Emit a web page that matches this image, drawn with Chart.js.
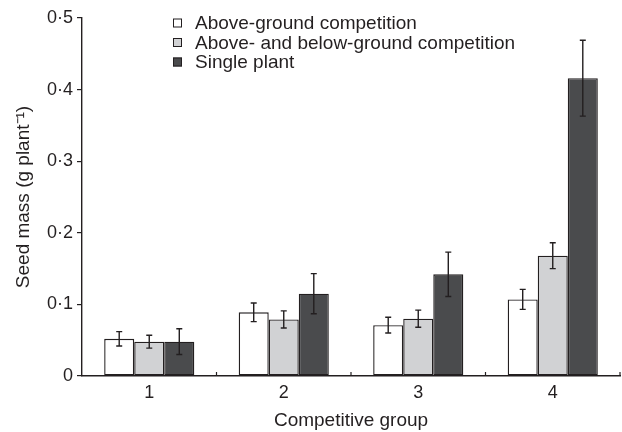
<!DOCTYPE html>
<html>
<head>
<meta charset="utf-8">
<script src="https://cdn.jsdelivr.net/npm/chart.js@4/dist/chart.umd.min.js"></script>
<style>
  html, body { margin: 0; padding: 0; background: #fff; }
  #wrap { width: 622px; height: 432px; }
</style>
</head>
<body>
<div id="wrap"><canvas id="grafico"></canvas></div>
<script>
// data
const groups = ['1', '2', '3', '4'];
const seriesNames = ['Above-ground competition', 'Above- and below-ground competition', 'Single plant'];
const aboveGround = [0.052, 0.089, 0.071, 0.107];
const aboveBelow = [0.048, 0.079, 0.080, 0.168];
const singlePlant = [0.048, 0.115, 0.142, 0.416];
const errAbove = [0.010, 0.013, 0.011, 0.014];
const errAboveBelow = [0.009, 0.012, 0.012, 0.018];
const errSingle = [0.018, 0.028, 0.031, 0.053];
const yTickLabels = ['0', '0·1', '0·2', '0·3', '0·4', '0·5'];

const fillColors = ['#ffffff', '#d1d2d4', '#4a4b4d'];
const ink = '#231f20';
const fontFam = '"Liberation Sans", Arial, Helvetica, sans-serif';

// error bars, drawn from the scales
const errorBars = {
    id: 'errorBars',
    afterDatasetsDraw(chart) {
        const c = chart.ctx;
        const y = chart.scales.y;
        const errs = [errAbove, errAboveBelow, errSingle];
        c.save();
        c.strokeStyle = ink;
        c.lineWidth = 1.4;
        chart.data.datasets.forEach((ds, i) => {
            chart.getDatasetMeta(i).data.forEach((bar, j) => {
                const v = ds.data[j], e = errs[i][j];
                const yt = y.getPixelForValue(v + e), yb = y.getPixelForValue(v - e);
                c.beginPath();
                c.moveTo(bar.x, yt); c.lineTo(bar.x, yb);
                c.moveTo(bar.x - 3, yt); c.lineTo(bar.x + 3, yt);
                c.moveTo(bar.x - 3, yb); c.lineTo(bar.x + 3, yb);
                c.stroke();
            });
        });
        c.restore();
    }
};

// small upward ticks between groups on the x axis + legend in the plot
const extras = {
    id: 'extras',
    afterDraw(chart) {
        const c = chart.ctx;
        const x = chart.scales.x;
        const a = chart.chartArea;
        const step = x.getPixelForValue(1) - x.getPixelForValue(0);
        c.save();
        c.strokeStyle = ink;
        c.lineWidth = 1.2;
        for (let i = 0; i < groups.length; i++) {
            const px = x.getPixelForValue(i) + step / 2;
            c.beginPath();
            c.moveTo(px, a.bottom); c.lineTo(px, a.bottom - 4);
            c.stroke();
        }
        // legend
        c.font = '19px ' + fontFam;
        c.textBaseline = 'middle';
        const lx = a.left + 91, ly = a.top + 5;
        seriesNames.forEach((name, i) => {
            const yy = ly + i * 19.5;
            c.fillStyle = fillColors[i];
            c.fillRect(lx, yy - 4.5, 9, 9);
            c.strokeStyle = ink;
            c.lineWidth = 1;
            c.strokeRect(lx + 0.5, yy - 4, 8, 8);
            c.fillStyle = ink;
            c.fillText(name, lx + 22, yy + 1);
        });
        c.restore();
    }
};

const ctx = document.getElementById('grafico').getContext('2d');
new Chart(ctx, {
    type: 'bar',
    data: {
        labels: groups,
        datasets: [aboveGround, aboveBelow, singlePlant].map((d, i) => ({
            label: seriesNames[i],
            data: d,
            backgroundColor: fillColors[i],
            borderColor: ink,
            borderWidth: 1.4,
            borderSkipped: false,
            categoryPercentage: 0.67,
            barPercentage: 1.0
        }))
    },
    options: {
        responsive: true,
        maintainAspectRatio: false,
        animation: false,
        layout: { padding: { top: 18, right: 2, left: 0, bottom: 0 } },
        plugins: {
            legend: { display: false },
            tooltip: { enabled: false }
        },
        scales: {
            x: {
                grid: { display: false, tickLength: 0 },
                border: { display: true, color: ink, width: 1.4 },
                ticks: { color: ink, font: { family: fontFam, size: 18 }, padding: 6 },
                title: {
                    display: true, text: 'Competitive group', color: ink,
                    font: { family: fontFam, size: 19 }, padding: { top: 0, bottom: 0 }
                },
                afterFit(s) { s.height = 56; }
            },
            y: {
                min: 0, max: 0.5,
                grid: { drawOnChartArea: false, tickLength: 5, color: ink, lineWidth: 1.2 },
                border: { display: true, color: ink, width: 1.4 },
                ticks: {
                    stepSize: 0.1, color: ink, padding: 4,
                    font: { family: fontFam, size: 18 },
                    callback: (v, i) => yTickLabels[i]
                },
                title: {
                    display: true, text: 'Seed mass (g plant⁻¹)', color: ink,
                    font: { family: fontFam, size: 19 }, padding: { top: 12, bottom: 0 }
                },
                afterFit(s) { s.width = 82; }
            }
        }
    },
    plugins: [errorBars, extras]
});
</script>
</body>
</html>
